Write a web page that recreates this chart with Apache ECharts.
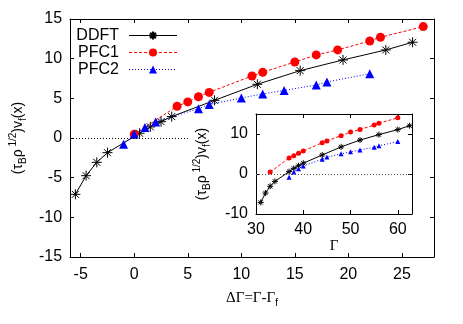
<!DOCTYPE html>
<html lang="en">
<head>
    <meta charset="UTF-8">
    <title>Front velocity</title>
    <style>
        html, body { margin: 0; padding: 0; background: #fff; }
    </style>
</head>
<body>
    <div id="myChart" style="width: 463px;height:324px;"></div>
</body>
<script src="https://cdn.jsdelivr.net/npm/echarts@6/dist/echarts.min.js"></script>
<script>
    // main plot: velocity vs distance from freezing point
    let ddftDG = [-5.5, -4.5, -3.5, -2.5, 0.5, 1.5, 2.5, 3.5, 7.5, 11.5, 15.5, 19.5, 23.5, 26];
    let ddftV  = [-7.1, -4.75, -3.07, -1.85, 0.6, 1.4, 2.06, 2.7, 4.75, 6.77, 8.49, 9.84, 11.1, 12.07];
    let pfc1DG = [0, 4, 5, 6, 7, 11, 12, 15, 17, 19, 22, 23, 27];
    let pfc1V  = [0.47, 4.0, 4.55, 5.2, 5.75, 7.82, 8.28, 9.58, 10.47, 11.1, 12.23, 12.7, 14.04];
    let pfc2DG = [-1, 0, 1, 2, 6, 7, 10, 12, 14, 17, 18, 22];
    let pfc2V  = [-0.8, 0.47, 1.33, 2.03, 3.7, 4.22, 5.05, 5.55, 6.0, 6.68, 7.06, 8.1];
    // inset: same velocities against Gamma
    let ddftG = [31, 32, 33, 34, 37, 38, 39, 40, 44, 48, 52, 56, 60, 62.5];
    let pfc1G = [33, 37, 38, 39, 40, 44, 45, 48, 50, 52, 55, 56, 60];
    let pfc2G = [37, 38, 39, 40, 44, 45, 48, 50, 52, 55, 56, 60];
    let mainXTicks = [-5, 0, 5, 10, 15, 20, 25];
    let insetYTicks = [-10, 0, 10];

    function pairs (xs, ys) {
      return xs.map(function (x, i) { return [x, ys[i]]; });
    }

    let font = 'Liberation Sans, Arial, sans-serif';
    let star = 'path://M0,5L10,5M5,0L5,10M1.5,1.5L8.5,8.5M1.5,8.5L8.5,1.5';

    function axisCommon (extra) {
      let a = {
        axisLine: { show: true, onZero: false, lineStyle: { color: '#000', width: 1 } },
        axisTick: { show: true, inside: true, length: 4, lineStyle: { color: '#000' } },
        axisLabel: { color: '#000', fontFamily: font, fontSize: 16 },
        splitLine: { show: false }
      };
      return Object.assign(a, extra);
    }

    let ylabelRich = {
      p: { fontFamily: font, fontSize: 14, color: '#000', verticalAlign: 'middle' },
      sup: { fontFamily: font, fontSize: 10, color: '#000', verticalAlign: 'top' },
      sub: { fontFamily: font, fontSize: 10, color: '#000', verticalAlign: 'bottom' }
    };
    let ylabel = '{p|(τ}{sub|B}{p|ρ}{sup| 1/2}{p|)v}{sub|f}{p|(x)}';

    let chart = echarts.init(document.getElementById('myChart'));
    let option = {
      animation: false,
      backgroundColor: '#fff',
      grid: [
        { left: 69, top: 19, right: 29, bottom: 67 },
        { left: 256, top: 114, width: 156, height: 100 }
      ],
      legend: {
        orient: 'vertical',
        left: 70,
        top: 27,
        align: 'right',
        itemWidth: 48,
        itemHeight: 10,
        itemGap: 0,
        padding: 0,
        data: ['DDFT', 'PFC1', 'PFC2'],
        lineStyle: { width: 1 },
        textStyle: { fontFamily: font, fontSize: 16, color: '#000', width: 49, lineHeight: 17, padding: [0, 5, 0, 0] }
      },
      xAxis: [
        axisCommon({
          gridIndex: 0, type: 'value', min: -6, max: 28, position: 'bottom',
          axisTick: { show: true, inside: true, length: 4, lineStyle: { color: '#000' }, customValues: mainXTicks },
          axisLabel: { color: '#000', fontFamily: font, fontSize: 16, margin: 10, customValues: mainXTicks },
          name: '{g|ΔΓ=Γ-Γ}{sub|f}',
          nameLocation: 'middle',
          nameGap: 30,
          nameTextStyle: {
            rich: {
              g: { fontFamily: 'Liberation Serif, serif', fontSize: 15, color: '#000', verticalAlign: 'middle' },
              sub: { fontFamily: font, fontSize: 10, color: '#000', verticalAlign: 'bottom' }
            },
            lineHeight: 20
          }
        }),
        axisCommon({
          gridIndex: 0, type: 'value', min: -6, max: 28, position: 'top',
          axisTick: { show: true, inside: true, length: 4, lineStyle: { color: '#000' }, customValues: mainXTicks },
          axisLabel: { show: false }
        }),
        axisCommon({
          gridIndex: 1, type: 'value', min: 30, max: 63, interval: 10, position: 'bottom',
          axisLabel: { color: '#000', fontFamily: font, fontSize: 16, margin: 8 },
          name: 'Γ',
          nameLocation: 'middle',
          nameGap: 24,
          nameTextStyle: { fontFamily: 'Liberation Serif, serif', fontSize: 15, color: '#000' }
        }),
        axisCommon({
          gridIndex: 1, type: 'value', min: 30, max: 63, interval: 10, position: 'top',
          axisLabel: { show: false }
        })
      ],
      yAxis: [
        axisCommon({
          gridIndex: 0, type: 'value', min: -15, max: 15, interval: 5, position: 'left',
          axisLabel: { color: '#000', fontFamily: font, fontSize: 16, margin: 8 },
          name: ylabel,
          nameLocation: 'middle',
          nameGap: 38,
          nameTextStyle: { rich: ylabelRich, lineHeight: 20 }
        }),
        axisCommon({
          gridIndex: 0, type: 'value', min: -15, max: 15, interval: 5, position: 'right',
          axisLabel: { show: false }
        }),
        axisCommon({
          gridIndex: 1, type: 'value', min: -10, max: 15, position: 'left',
          axisTick: { show: true, inside: true, length: 4, lineStyle: { color: '#000' }, customValues: insetYTicks },
          axisLabel: { color: '#000', fontFamily: font, fontSize: 16, margin: 8, customValues: insetYTicks },
          name: ylabel,
          nameLocation: 'middle',
          nameGap: 44,
          nameTextStyle: { rich: ylabelRich, lineHeight: 20 }
        }),
        axisCommon({
          gridIndex: 1, type: 'value', min: -10, max: 15, position: 'right',
          axisTick: { show: true, inside: true, length: 4, lineStyle: { color: '#000' }, customValues: insetYTicks },
          axisLabel: { show: false }
        })
      ],
      series: [
        {
          name: 'DDFT', type: 'line', xAxisIndex: 0, yAxisIndex: 0,
          data: pairs(ddftDG, ddftV),
          symbol: star, symbolSize: 10,
          itemStyle: { color: '#000', borderColor: '#000', borderWidth: 1 },
          lineStyle: { color: '#000', width: 1 },
          markLine: {
            silent: true, symbol: 'none', label: { show: false },
            lineStyle: { color: '#000', type: [1, 2], width: 1 },
            data: [[{ coord: [-6, 0] }, { coord: [5, 0] }]]
          }
        },
        {
          name: 'PFC1', type: 'line', xAxisIndex: 0, yAxisIndex: 0,
          data: pairs(pfc1DG, pfc1V),
          symbol: 'circle', symbolSize: 9,
          itemStyle: { color: '#ff0000' },
          lineStyle: { color: '#ff0000', width: 1, type: [3, 2] }
        },
        {
          name: 'PFC2', type: 'line', xAxisIndex: 0, yAxisIndex: 0,
          data: pairs(pfc2DG, pfc2V),
          symbol: 'triangle', symbolSize: 9,
          itemStyle: { color: '#0000ff' },
          lineStyle: { color: '#0000ff', width: 1, type: [1, 2] }
        },
        {
          name: 'DDFT', type: 'line', xAxisIndex: 2, yAxisIndex: 2,
          data: pairs(ddftG, ddftV),
          symbol: star, symbolSize: 6,
          itemStyle: { color: '#000', borderColor: '#000', borderWidth: 1 },
          lineStyle: { color: '#000', width: 1 },
          markLine: {
            silent: true, symbol: 'none', label: { show: false },
            lineStyle: { color: '#555', type: [1, 2], width: 1 },
            data: [{ yAxis: 0 }]
          }
        },
        {
          name: 'PFC1', type: 'line', xAxisIndex: 2, yAxisIndex: 2,
          data: pairs(pfc1G, pfc1V),
          symbol: 'circle', symbolSize: 5,
          itemStyle: { color: '#ff0000' },
          lineStyle: { color: '#ff0000', width: 1, type: [3, 2] }
        },
        {
          name: 'PFC2', type: 'line', xAxisIndex: 2, yAxisIndex: 2,
          data: pairs(pfc2G, pfc2V),
          symbol: 'triangle', symbolSize: 5,
          itemStyle: { color: '#0000ff' },
          lineStyle: { color: '#0000ff', width: 1, type: [1, 2] }
        }
      ]
    };
    chart.setOption(option);
</script>
</html>
